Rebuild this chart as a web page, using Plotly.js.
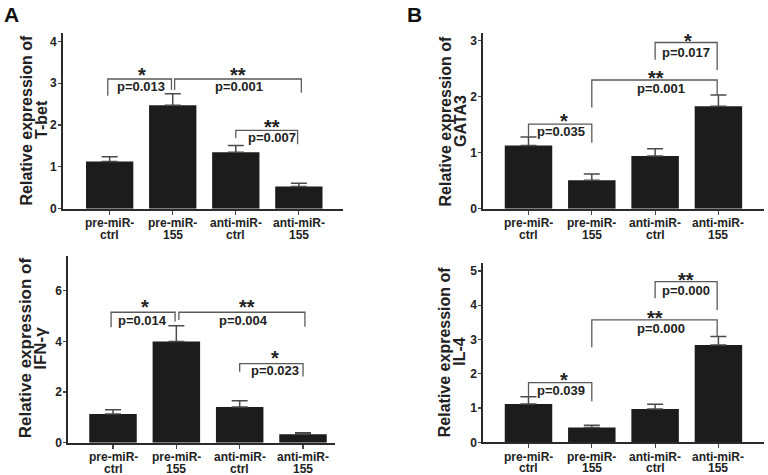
<!DOCTYPE html>
<html>
<head>
<meta charset="utf-8">
<script src="https://cdn.plot.ly/plotly-3.0.1.min.js"></script>
<style>
  html, body { margin: 0; padding: 0; background: #ffffff; }
  #chart { width: 768px; height: 475px; }
</style>
</head>
<body>
<div id="chart"></div>
<script>
// ---------- data ----------
const categories = [0, 1, 2, 3];
const tickLabels = ['pre-miR-<br>ctrl', 'pre-miR-<br>155', 'anti-miR-<br>ctrl', 'anti-miR-<br>155'];

const tbetMean = [1.13, 2.47, 1.35, 0.53];
const tbetErr  = [0.11, 0.28, 0.16, 0.08];

const gata3Mean = [1.13, 0.51, 0.94, 1.83];
const gata3Err  = [0.15, 0.11, 0.13, 0.20];

const ifngMean = [1.13, 3.99, 1.41, 0.33];
const ifngErr  = [0.17, 0.63, 0.25, 0.06];

const il4Mean = [1.12, 0.43, 0.97, 2.84];
const il4Err  = [0.21, 0.07, 0.14, 0.25];

// significance comparisons: [groupA, groupB, stars, p-value text]
const tbetSig  = [[0, 1, '*', 'p=0.013'], [1, 3, '**', 'p=0.001'], [2, 3, '**', 'p=0.007']];
const gata3Sig = [[0, 1, '*', 'p=0.035'], [1, 3, '**', 'p=0.001'], [2, 3, '*', 'p=0.017']];
const ifngSig  = [[0, 1, '*', 'p=0.014'], [1, 3, '**', 'p=0.004'], [2, 3, '*', 'p=0.023']];
const il4Sig   = [[0, 1, '*', 'p=0.039'], [1, 3, '**', 'p=0.000'], [2, 3, '**', 'p=0.000']];

// ---------- bracket geometry (placement only) ----------
const tbetGeo = [
  {dx: [-0.03, -0.02], top: 3.10, legs: [2.70, 2.84], star: [0.52, 3.32], p: [0.49, 2.91]},
  {dx: [0.03, 0.04],   top: 3.10, legs: [2.84, 2.77], star: [2.03, 3.32], p: [2.05, 2.91]},
  {dx: [0.0, -0.02],   top: 1.87, legs: [1.69, 1.54], star: [2.57, 2.08], p: [2.57, 1.71]}
];
const gata3Geo = [
  {dx: [0.0, 0.0],   top: 1.51, legs: [1.28, 1.18], star: [0.56, 1.65], p: [0.51, 1.38]},
  {dx: [0.0, -0.02], top: 2.30, legs: [1.81, 2.03], star: [2.01, 2.42], p: [2.09, 2.15]},
  {dx: [0.0, -0.02], top: 2.97, legs: [2.66, 2.48], star: [2.52, 3.09], p: [2.48, 2.80]}
];
const ifngGeo = [
  {dx: [-0.03, -0.02], top: 5.15, legs: [4.56, 4.78], star: [0.51, 5.57], p: [0.47, 4.83]},
  {dx: [0.04, 0.03],   top: 5.15, legs: [4.84, 4.58], star: [2.12, 5.57], p: [2.06, 4.83]},
  {dx: [0.0, 0.0],     top: 3.12, legs: [2.80, 2.61], star: [2.55, 3.53], p: [2.56, 2.84]}
];
const il4Geo = [
  {dx: [0.0, 0.0],   top: 1.74, legs: [1.33, 1.20], star: [0.56, 1.96], p: [0.51, 1.50]},
  {dx: [0.0, -0.02], top: 3.57, legs: [2.77, 3.10], star: [2.00, 3.78], p: [2.09, 3.32]},
  {dx: [0.0, -0.02], top: 4.69, legs: [4.20, 3.86], star: [2.48, 4.88], p: [2.48, 4.42]}
];

// ---------- styles ----------
const FONT = 'Liberation Sans, Arial, sans-serif';
const BAR_COLOR = '#1c1c1c';
const ERR_COLOR = '#4a4a4a';
const LINE_COLOR = '#2b2b2b';
const BRACKET_COLOR = '#5a5a5a';
const W = 768, H = 475;

const panels = [
  {id: '',  mean: tbetMean,  err: tbetErr,  sig: tbetSig,  geo: tbetGeo,
   xpx: [63, 343], ypx: [33, 208.7], xr: [-0.74, 3.70], yr: [0, 4.2], dtick: 1,
   title: ['Relative expression of', 'T-bet'], tx: [25.5, 41], ty: 120, tfs: 16},
  {id: '2', mean: gata3Mean, err: gata3Err, sig: gata3Sig, geo: gata3Geo,
   xpx: [483.3, 764], ypx: [33, 208.7], xr: [-0.714, 3.72], yr: [0, 3.14], dtick: 1,
   title: ['Relative expression of', 'GATA3'], tx: [444.5, 460], ty: 121, tfs: 16},
  {id: '3', mean: ifngMean,  err: ifngErr,  sig: ifngSig,  geo: ifngGeo,
   xpx: [68.3, 335], ypx: [256, 442.7], xr: [-0.706, 3.505], yr: [0, 7.37], dtick: 2,
   title: ['Relative expression of', 'IFN-γ'], tx: [25, 40.5], ty: 348.3, tfs: 17},
  {id: '4', mean: il4Mean,   err: il4Err,   sig: il4Sig,   geo: il4Geo,
   xpx: [483.3, 764], ypx: [262.7, 442.3], xr: [-0.714, 3.72], yr: [0, 5.24], dtick: 1,
   title: ['Relative expression of', 'IL-4'], tx: [444.5, 460], ty: 351.7, tfs: 16}
];

const data = [];
const shapes = [];
const annotations = [];
const layout = {
  width: W, height: H,
  margin: {l: 0, r: 0, t: 0, b: 0},
  paper_bgcolor: '#ffffff', plot_bgcolor: '#ffffff',
  showlegend: false,
  font: {family: FONT, color: '#222222'},
  shapes: shapes, annotations: annotations
};

panels.forEach(pn => {
  const xa = 'x' + pn.id, ya = 'y' + pn.id;
  data.push({
    type: 'bar', x: categories, y: pn.mean, xaxis: xa, yaxis: ya,
    width: 0.75,
    marker: {color: BAR_COLOR, line: {width: 0}},
    error_y: {type: 'data', symmetric: false, array: pn.err, arrayminus: pn.err.map(() => 0),
              color: ERR_COLOR, thickness: 1.5, width: 8},
    hoverinfo: 'skip'
  });
  layout['xaxis' + pn.id] = {
    domain: [pn.xpx[0] / W, pn.xpx[1] / W], anchor: ya, range: pn.xr,
    tickmode: 'array', tickvals: categories, ticktext: tickLabels,
    showticklabels: false,
    showline: true, linecolor: LINE_COLOR, linewidth: 2,
    ticks: 'outside', ticklen: 4, tickwidth: 1.2, tickcolor: '#444',
    showgrid: false, zeroline: false, fixedrange: true
  };
  layout['yaxis' + pn.id] = {
    domain: [1 - pn.ypx[1] / H, 1 - pn.ypx[0] / H], anchor: xa, range: pn.yr,
    tickmode: 'linear', tick0: 0, dtick: pn.dtick,
    showline: true, linecolor: LINE_COLOR, linewidth: 2,
    ticks: 'outside', ticklen: 3, tickwidth: 1.2, tickcolor: '#444',
    ticklabelstandoff: -1,
    showgrid: false, zeroline: false, fixedrange: true,
    tickfont: {family: FONT, size: 12, color: '#222', weight: 'bold'}
  };
  // category labels (two lines each), placed on the x scale
  categories.forEach((c, i) => {
    tickLabels[i].split('<br>').forEach((line, k) => {
      annotations.push({
        xref: xa, yref: ya + ' domain', x: c, y: 0, text: line,
        showarrow: false, xanchor: 'center', yanchor: 'middle',
        yshift: k === 0 ? -14.5 : -25.8,
        font: {family: FONT, size: 12, color: '#222', weight: 'bold'}
      });
    });
  });
  pn.sig.forEach((s, i) => {
    const g = pn.geo[i];
    const x1 = s[0] + g.dx[0], x2 = s[1] + g.dx[1];
    shapes.push({
      type: 'path', xref: xa, yref: ya,
      path: `M ${x1},${g.legs[0]} L ${x1},${g.top} L ${x2},${g.top} L ${x2},${g.legs[1]}`,
      line: {color: BRACKET_COLOR, width: 1.3}
    });
    annotations.push({
      xref: xa, yref: ya, x: g.star[0], y: g.star[1], text: s[2],
      showarrow: false, xanchor: 'center', yanchor: 'middle', yshift: -5,
      font: {family: FONT, size: 20, color: '#222', weight: 'bold'}
    });
    annotations.push({
      xref: xa, yref: ya, x: g.p[0], y: g.p[1], text: s[3],
      showarrow: false, xanchor: 'center', yanchor: 'middle',
      font: {family: FONT, size: 13, color: '#222', weight: 'bold'}
    });
  });
  pn.title.forEach((t, k) => {
    annotations.push({
      xref: 'paper', yref: 'paper', x: pn.tx[k] / W, y: 1 - pn.ty / H, text: t,
      textangle: -90, showarrow: false, xanchor: 'center', yanchor: 'middle',
      font: {family: FONT, size: pn.tfs, color: '#222', weight: 'bold'}
    });
  });
});

// panel letters
[['A', 11], ['B', 414]].forEach(l => {
  annotations.push({
    xref: 'paper', yref: 'paper', x: l[1] / W, y: 1 - 15 / H, text: l[0],
    showarrow: false, xanchor: 'center', yanchor: 'middle',
    font: {family: FONT, size: 21, color: '#111', weight: 'bold'}
  });
});

Plotly.newPlot('chart', data, layout, {displayModeBar: false, staticPlot: true});
</script>
</body>
</html>
